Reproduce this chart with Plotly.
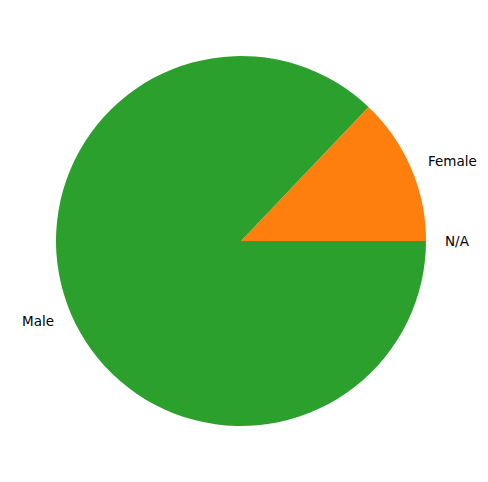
import math
import plotly.graph_objects as go

labels = ["N/A", "Female", "Male"]
values = [0.0, 12.9, 87.1]
colors = ["#1f77b4", "#ff7f0e", "#2ca02c"]

fig = go.Figure(go.Pie(
    labels=labels, values=values, sort=False,
    direction="counterclockwise", rotation=90,
    marker=dict(colors=colors, line=dict(width=0)),
    textinfo="none", hoverinfo="label+value",
    showlegend=False, domain=dict(x=[0, 1], y=[0, 1]),
))

total = sum(values)
annotations = []
cum = 0.0
for lab, v in zip(labels, values):
    mid = (cum + v / 2) / total * 2 * math.pi
    cum += v
    cx, sy = math.cos(mid), math.sin(mid)
    annotations.append(dict(
        x=0.5 + 0.545 * cx, y=0.5 + 0.55 * sy, xref="paper", yref="paper",
        text=lab, showarrow=False,
        xanchor="left" if cx >= 0 else "right", yanchor="middle",
        font=dict(family="DejaVu Sans", size=13.5, color="black"),
    ))

# page body has an 8px default margin; compensate so the chart lands as in the reference
fig.update_layout(
    width=480, height=474,
    margin=dict(l=48, r=62, t=48, b=56),
    paper_bgcolor="white", plot_bgcolor="white",
    annotations=annotations,
)
fig.write_html("out.html")
